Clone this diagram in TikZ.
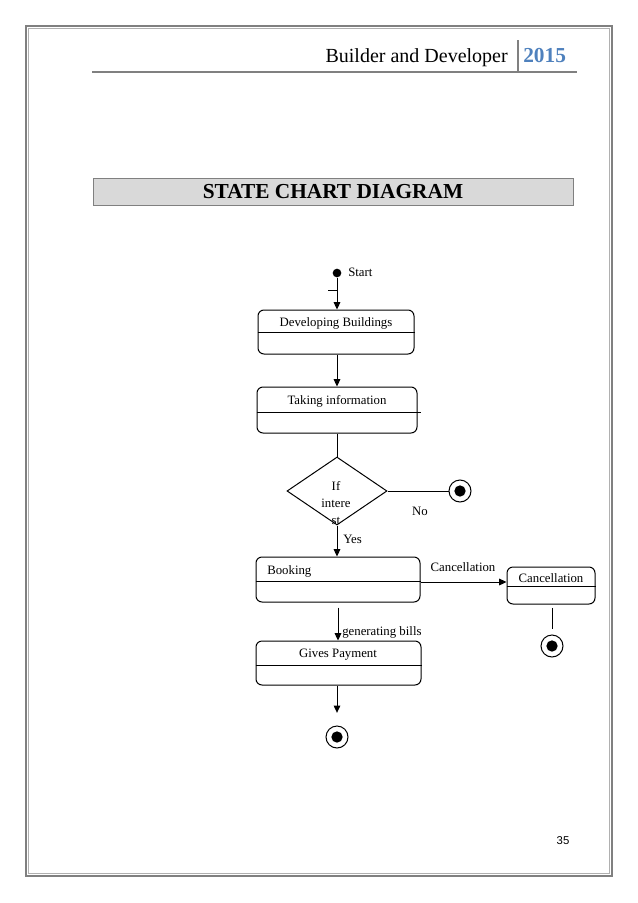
\documentclass[tikz,border=0pt]{standalone}
\usepackage{fontspec}
\setmainfont{Liberation Serif}
\newfontfamily\arialfont{Liberation Sans}
\usetikzlibrary{arrows.meta,shapes.geometric}
\definecolor{framegray}{HTML}{808080}
\definecolor{framelight}{HTML}{B0B0B0}
\definecolor{titlefill}{HTML}{D9D9D9}
\definecolor{yearblue}{HTML}{4F81BD}
\tikzset{
  statebox/.style={draw, rounded corners=4.5pt, line width=0.75pt, inner sep=0pt},
  lbl/.style={font=\fontsize{9.6}{11}\selectfont, inner sep=0pt},
  flow/.style={line width=0.75pt, -{Triangle[length=5.5pt,width=5pt]}},
  plain/.style={line width=0.75pt},
  endouter/.style={circle, draw, line width=0.75pt, minimum size=16.5pt, inner sep=0pt},
  enddot/.style={circle, fill=black, minimum size=8.5pt, inner sep=0pt},
}
\begin{document}
\begin{tikzpicture}[x=0.75pt,y=-0.75pt]
\useasboundingbox (0,0) rectangle (638,903);
% page frame
\draw[framegray, line width=1.2pt] (26,26) rectangle (612,876);
\draw[framelight, line width=0.6pt] (28.5,28.5) rectangle (609.5,873.5);
% header
\node[anchor=base east, font=\fontsize{15}{18}\selectfont, inner sep=0pt] (hdr) at (508,62) {Builder and Developer};
\node[anchor=base west, font=\bfseries\fontsize{16}{18}\selectfont, text=yearblue, inner sep=0pt] (year) at (523,62) {2015};
\draw[framegray, line width=1.5pt] (92,71.5) -- (577,71.5);
\draw[framegray, line width=1.5pt] (518,40) -- (518,72);
% title bar
\node[draw=framegray, fill=titlefill, line width=0.75pt, minimum width=360pt, minimum height=20.25pt, inner sep=0pt] (bar) at (333,191.5) {};
\node[font=\bfseries\fontsize{16}{18}\selectfont, inner sep=0pt] (title) at (333,192) {STATE CHART DIAGRAM};
% start
\node[circle, fill=black, minimum size=6.5pt, inner sep=0pt] (start) at (337,273) {};
\node[lbl, anchor=west] (startl) at (348,272) {Start};
\coordinate (tickL) at (328,290);
\coordinate (tickR) at (337,290);
\draw[plain] (tickL) -- (tickR);
% Developing Buildings
\node[statebox, minimum width=117pt, minimum height=33pt] (dev) at (336,332) {};
\draw[plain] (dev.west) -- (dev.east);
\node[lbl] (devt) at (336,323) {Developing Buildings};
\draw[flow] (start) -- (dev.north -| start);
% Taking information
\node[statebox, minimum width=120pt, minimum height=34.5pt] (take) at (337,410) {};
\draw[plain] (take.west |- {(0,412)}) -- ([xshift=2.25pt]take.east |- {(0,412)});
\node[lbl] (taket) at (337,401) {Taking information};
\draw[flow] (dev.south -| take) -- (take.north);
% decision
\node[diamond, draw, line width=0.75pt, minimum width=75pt, minimum height=51pt, inner sep=0pt] (dec) at (337,491) {};
\node[lbl, align=center, font=\fontsize{9.6}{12.6}\selectfont] (dect) at (336,503) {If\\intere\\st};
\draw[plain] (take.south) -- (dec.north);
% No end
\node[endouter] (endno) at (460,491) {};
\node[enddot] (endnoi) at (endno) {};
\draw[plain] (dec.east) -- (endno.west);
\node[lbl] (nol) at (420,511) {No};
% Booking
\node[statebox, minimum width=123pt, minimum height=33.75pt] (book) at (338,579.5) {};
\draw[plain] (book.west |- {(0,581)}) -- (book.east |- {(0,581)});
\node[lbl, anchor=west] (bookt) at (267,571) {Booking};
\draw[flow] (dec.south) -- (book.north -| dec.south);
\node[lbl, anchor=west] (yesl) at (343,539) {Yes};
% Cancellation
\node[statebox, minimum width=66pt, minimum height=27.75pt] (canc) at (551,585.5) {};
\draw[plain] (canc.west |- {(0,586)}) -- (canc.east |- {(0,586)});
\node[lbl] (canct) at (551,578) {Cancellation};
\draw[flow] (book.east |- {(0,582)}) -- (canc.west |- {(0,582)});
\node[lbl] (cancl) at (463,567) {Cancellation};
\node[endouter] (endc) at (552,646) {};
\node[enddot] (endci) at (endc) {};
\draw[plain, shorten <=2.5pt, shorten >=4pt] (canc.south -| endc) -- (endc.north);
% Gives Payment
\node[statebox, minimum width=123.75pt, minimum height=33pt] (pay) at (338.5,663) {};
\draw[plain] (pay.west |- {(0,665)}) -- (pay.east |- {(0,665)});
\node[lbl] (payt) at (338,655) {Gives Payment};
\draw[flow, shorten <=3.75pt] (book.south -| 338,0) -- (pay.north -| 338,0);
\node[lbl, anchor=west] (genl) at (342,632) {generating bills};
% final
\node[endouter] (endp) at (337,737) {};
\node[enddot] (endpi) at (endp) {};
\draw[flow, shorten >=9.5pt] (pay.south -| endp) -- (endp.north);
% page number
\node[font=\arialfont\fontsize{8.5}{10}\selectfont, inner sep=0pt] (pg) at (563,841) {35};
\end{tikzpicture}
\end{document}
